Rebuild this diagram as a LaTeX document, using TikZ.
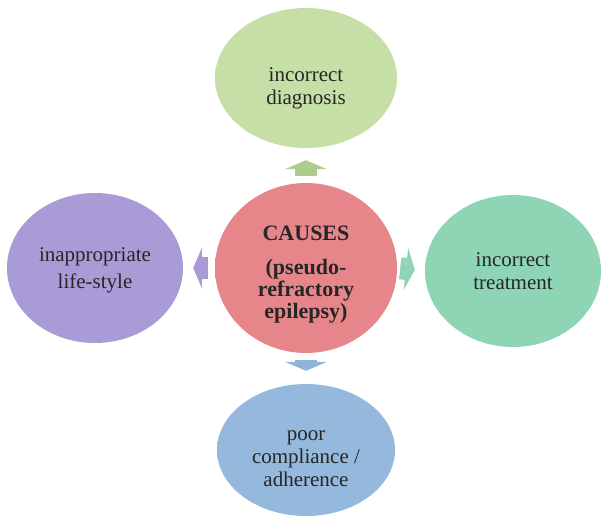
\documentclass[tikz,border=0pt]{standalone}
\usepackage{fontspec}
\setmainfont{Liberation Serif}
\newfontfamily\myserif{Liberation Serif}
\usetikzlibrary{arrows.meta,shapes.geometric}
\definecolor{cpink}{HTML}{E6868A}\definecolor{cpinkd}{HTML}{CC666B}
\definecolor{cgreen}{HTML}{C5DFA6}\definecolor{cgreend}{HTML}{A3C483}
\definecolor{cmint}{HTML}{8ED5B6}\definecolor{cmintd}{HTML}{6BBC99}
\definecolor{cpurp}{HTML}{A99BD6}\definecolor{cpurpd}{HTML}{877ABD}
\definecolor{cblue}{HTML}{95B9DD}\definecolor{cblued}{HTML}{7096C0}
\pgfdeclareradialshading{rimpink}{\pgfpoint{0bp}{0bp}}{color(0bp)=(cpink);color(42bp)=(cpink);color(50bp)=(cpinkd)}
\pgfdeclareradialshading{rimgreen}{\pgfpoint{0bp}{0bp}}{color(0bp)=(cgreen);color(42bp)=(cgreen);color(50bp)=(cgreend)}
\pgfdeclareradialshading{rimmint}{\pgfpoint{0bp}{0bp}}{color(0bp)=(cmint);color(42bp)=(cmint);color(50bp)=(cmintd)}
\pgfdeclareradialshading{rimpurp}{\pgfpoint{0bp}{0bp}}{color(0bp)=(cpurp);color(42bp)=(cpurp);color(50bp)=(cpurpd)}
\pgfdeclareradialshading{rimblue}{\pgfpoint{0bp}{0bp}}{color(0bp)=(cblue);color(42bp)=(cblue);color(50bp)=(cblued)}
\tikzset{
  blob/.style={ellipse, inner sep=0pt, align=center, text=black!85,
    font=\myserif\fontsize{21}{23}\selectfont},
  blockarrow/.style={line width=22pt, -{Triangle[width=42pt,length=9pt,line width=0pt]}}
}
\begin{document}
\begin{tikzpicture}[x=1pt,y=-1pt]
\useasboundingbox (0,0) rectangle (602,517);
\node[blob, shading=rimpink, minimum width=182pt, minimum height=170pt,
  font=\myserif\bfseries\fontsize{22}{22}\selectfont] (c) at (306,268)
  {\rule{0pt}{27pt}CAUSES\\[12pt](pseudo-\\refractory\\epilepsy)};
\node[blob, shading=rimgreen, minimum width=182pt, minimum height=140pt] (t) at (306,78)
  {\rule{0pt}{35pt}incorrect\\diagnosis};
\node[blob, shading=rimmint, minimum width=176pt, minimum height=152pt] (r) at (513,271)
  {incorrect\\treatment};
\node[blob, shading=rimpurp, minimum width=176pt, minimum height=150pt] (l) at (95,268)
  {\rule{0pt}{19pt}inappropriate\\[4pt]life-style};
\node[blob, shading=rimblue, minimum width=178pt, minimum height=132pt] (b) at (306,450)
  {\rule{0pt}{27pt}poor\\compliance /\\adherence};
\draw[blockarrow, color=cgreend!70!cgreen, shorten <=7pt, shorten >=12pt] (c.north) -- (t.south);
\draw[blockarrow, color=cmint, shorten <=3pt, shorten >=10pt] (c.east) -- (r.west);
\draw[blockarrow, color=cblue!85!cblued, shorten <=7pt, shorten >=13pt] (c.south) -- (b.north);
\draw[blockarrow, color=cpurp, shorten <=7pt, shorten >=10pt] (c.west) -- (l.east);
\end{tikzpicture}
\end{document}
